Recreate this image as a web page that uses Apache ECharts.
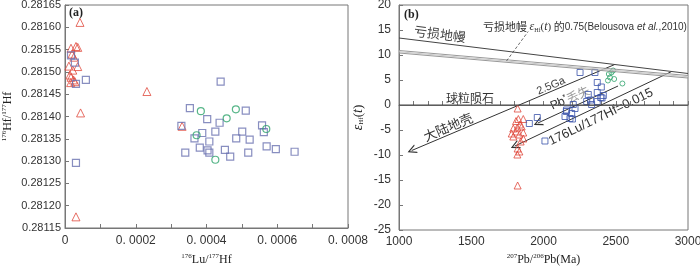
<!DOCTYPE html>
<html>
<head>
<meta charset="utf-8">
<title>Lu-Hf</title>
<script src="https://cdn.jsdelivr.net/npm/echarts@6/dist/echarts.min.js"></script>
<style>
  body { margin: 0; background: #fff; }
  #main { width: 700px; height: 267px; }
</style>
</head>
<body>
<div id="main"></div>
<script type="text/javascript">
// ---- panel (a): 176Lu/177Hf vs 176Hf/177Hf ----
var aTriangles = [
    [0.0000424, 0.281611], [0.000017, 0.281553], [0.000031, 0.281557], [0.000036, 0.281555],
    [0.000020, 0.281540], [0.000025, 0.281533], [0.000011, 0.281513], [0.000036, 0.281512],
    [0.000022, 0.281504], [0.000014, 0.281493], [0.000017, 0.281488], [0.000024, 0.281482],
    [0.000016, 0.281476], [0.000028, 0.281478], [0.0002315, 0.281456], [0.000044, 0.281408],
    [0.000331, 0.281378], [0.000031, 0.281175]
];
var aSquares = [
    [0.000017, 0.281537], [0.000028, 0.281521], [0.000059, 0.281482], [0.000031, 0.281473],
    [0.000031, 0.281296], [0.000440, 0.281478], [0.000353, 0.281419], [0.000511, 0.281413],
    [0.000402, 0.281394], [0.000437, 0.281386], [0.000329, 0.281379], [0.000557, 0.281380],
    [0.000388, 0.281363], [0.000425, 0.281366], [0.000501, 0.281366], [0.000562, 0.281365],
    [0.000366, 0.281351], [0.000484, 0.281351], [0.000522, 0.281348], [0.000408, 0.281344],
    [0.000381, 0.281330], [0.000403, 0.281324], [0.000452, 0.281325], [0.000570, 0.281333],
    [0.000596, 0.281327], [0.000340, 0.281319], [0.000408, 0.281319], [0.000467, 0.281310],
    [0.000518, 0.281319], [0.000649, 0.281321]
];
var aCircles = [
    [0.000384, 0.281412], [0.000483, 0.281416], [0.000457, 0.281396],
    [0.000372, 0.281358], [0.000569, 0.281372], [0.000425, 0.281303]
];

// ---- panel (b): age vs epsilon Hf(t) ----
var bTriangles = [
    [1821, -0.7], [1860, -2.8], [1810, -3.2], [1826, -2.8], [1837, -3.9], [1791, -4.7],
    [1819, -4.5], [1849, -4.3], [1810, -5.3], [1780, -5.7], [1791, -6.3], [1833, -5.9],
    [1860, -5.5], [1860, -6.7], [1842, -7.3], [1821, -8.7], [1819, -9.9], [1833, -9.3],
    [1821, -16.1]
];
var bSquares = [
    [2253, 6.5], [2356, 6.5], [2372, 4.5], [2400, 3.6], [2372, 2.5], [2310, 2.1],
    [2414, 1.9], [2396, 1.5], [2326, 1.0], [2372, 0.7], [2299, 0.7], [2206, 0.1],
    [2333, 0.1], [2218, -0.7], [2160, -1.0], [2195, -1.7], [2149, -2.3], [2183, -2.7],
    [2200, -2.8], [1902, -3.7], [1957, -2.5], [2010, -7.2], [2158, -1.3], [2405, 1.4]
];
var bCircles = [
    [2452, 6.2], [2482, 6.9], [2460, 5.5], [2489, 5.2], [2446, 4.9], [2546, 4.3], [2470, 6.5]
];
var dmLine = [[1000, 13.4], [3000, 6.3]];
var dm75Lines = [
    [[1000, 10.9], [3000, 5.9]],
    [[1000, 10.65], [3000, 5.65]],
    [[1000, 10.4], [3000, 5.4]]
];
var churLine = [[1000, 0], [3000, 0]];
var crustLines = [
    [[1088, -9.1], [2493, 8.1]],
    [[1961, -3.6], [2516, 3.8]],
    [[1802, -8.2], [2887, 6.7]]
];
var leaderLine = [[1744, 8.8], [1894, 14.7]];

var red = '#e0483c', blueA = '#6a72b0', blueB = '#3a52aa', green = '#2ea46c';
var chevron = 'path://M5,0 L10,10 L8.6,10 L5,2.8 L1.4,10 L0,10 Z';

var supName = {
    m: { fontFamily: 'Liberation Serif', fontSize: 12, color: '#222', verticalAlign: 'bottom', lineHeight: 13 },
    s: { fontFamily: 'Liberation Serif', fontSize: 7, color: '#222', verticalAlign: 'top', lineHeight: 13 }
};
var epsRich = {
    e: { fontFamily: 'Liberation Serif', fontStyle: 'italic', fontSize: 14, color: '#222', verticalAlign: 'bottom', lineHeight: 16 },
    n: { fontFamily: 'Liberation Serif', fontSize: 13, color: '#222', verticalAlign: 'bottom', lineHeight: 16 },
    s: { fontFamily: 'Liberation Serif', fontSize: 7, color: '#222', verticalAlign: 'bottom', lineHeight: 13 }
};

function axisCommon() {
    return {
        axisLine: { lineStyle: { color: '#777', width: 1 } },
        axisTick: { inside: true, length: 4, lineStyle: { color: '#777' } },
        splitLine: { show: false },
        nameMoveOverlap: false
    };
}

var chart = echarts.init(document.getElementById('main'));

var option = {
    animation: false,
    grid: [
        { left: 65, top: 5, width: 283, height: 223, show: true, borderColor: '#777', borderWidth: 1,
          containLabel: false, outerBoundsMode: 'none' },
        { left: 399, top: 5, width: 289, height: 225, show: true, borderColor: '#777', borderWidth: 1,
          containLabel: false, outerBoundsMode: 'none' }
    ],
    xAxis: [
        Object.assign(axisCommon(), {
            gridIndex: 0, type: 'value', min: 0, max: 0.0008, interval: 0.0002,
            minorTick: { show: true, splitNumber: 2, length: 4, lineStyle: { color: '#777' } },
            axisLabel: {
                color: '#333', fontFamily: 'Liberation Sans', fontSize: 12, margin: 7,
                formatter: function (v) { return v === 0 ? '0' : v.toFixed(4).replace('.', '. '); }
            },
            name: '{s|176}{m|Lu/}{s|177}{m|Hf}', nameLocation: 'middle', nameGap: 25,
            nameTextStyle: { rich: supName }
        }),
        Object.assign(axisCommon(), {
            gridIndex: 1, type: 'value', min: 1000, max: 3000, interval: 500,
            minorTick: { show: true, splitNumber: 5, length: 4, lineStyle: { color: '#777' } },
            axisLabel: {
                color: '#333', fontFamily: 'Liberation Sans', fontSize: 12, margin: 6,
                formatter: function (v) { return String(v); }
            },
            name: '{s|207}{m|Pb/}{s|206}{m|Pb(Ma)}', nameLocation: 'middle', nameGap: 23,
            nameTextStyle: { rich: supName }
        })
    ],
    yAxis: [
        Object.assign(axisCommon(), {
            gridIndex: 0, type: 'value', min: 0.28115, max: 0.28165, interval: 0.00005,
            axisLabel: {
                color: '#333', fontFamily: 'Liberation Sans', fontSize: 11, margin: 4,
                formatter: function (v) { return v.toFixed(5); }
            },
            name: '{s|176}{m|Hf/}{s|177}{m|Hf}', nameLocation: 'middle', nameGap: 51, nameRotate: 90,
            nameTextStyle: { rich: supName }
        }),
        Object.assign(axisCommon(), {
            gridIndex: 1, type: 'value', min: -25, max: 20, interval: 5,
            axisLabel: {
                color: '#333', fontFamily: 'Liberation Sans', fontSize: 12, margin: 8,
                formatter: function (v) { return String(v); }
            },
            name: '{e|ε}{s|Hf}{n|(}{e|t}{n|)}', nameLocation: 'middle', nameGap: 34, nameRotate: 90,
            nameTextStyle: { rich: epsRich }
        })
    ],
    series: [
        { type: 'scatter', xAxisIndex: 0, yAxisIndex: 0, data: aTriangles, symbol: 'triangle', symbolSize: 8,
          itemStyle: { color: 'rgba(0,0,0,0)', borderColor: red, borderWidth: 1 } },
        { type: 'scatter', xAxisIndex: 0, yAxisIndex: 0, data: aSquares, symbol: 'rect', symbolSize: 7,
          itemStyle: { color: 'rgba(0,0,0,0)', borderColor: blueA, borderWidth: 1.2 } },
        { type: 'scatter', xAxisIndex: 0, yAxisIndex: 0, data: aCircles, symbol: 'circle', symbolSize: 7,
          itemStyle: { color: 'rgba(0,0,0,0)', borderColor: green, borderWidth: 1.2 } },

        { type: 'line', xAxisIndex: 1, yAxisIndex: 1, data: dmLine, symbol: 'none', silent: true,
          lineStyle: { color: '#444', width: 1 } },
        { type: 'line', xAxisIndex: 1, yAxisIndex: 1, data: dm75Lines[0], symbol: 'none', silent: true,
          lineStyle: { color: '#999', width: 1.2 } },
        { type: 'line', xAxisIndex: 1, yAxisIndex: 1, data: dm75Lines[1], symbol: 'none', silent: true,
          lineStyle: { color: '#c8c8c8', width: 1.2 } },
        { type: 'line', xAxisIndex: 1, yAxisIndex: 1, data: dm75Lines[2], symbol: 'none', silent: true,
          lineStyle: { color: '#999', width: 1.2 } },
        { type: 'line', xAxisIndex: 1, yAxisIndex: 1, data: churLine, symbol: 'none', silent: true,
          lineStyle: { color: '#444', width: 1 } },
        { type: 'line', xAxisIndex: 1, yAxisIndex: 1, data: leaderLine, symbol: 'none', silent: true,
          lineStyle: { color: '#444', width: 0.8, type: [3, 2] } },
        { type: 'lines', coordinateSystem: 'cartesian2d', xAxisIndex: 1, yAxisIndex: 1, silent: true,
          symbol: [chevron, 'none'], symbolSize: [9, 9],
          lineStyle: { color: '#333', width: 1, opacity: 1 },
          data: crustLines.map(function (c) { return { coords: c }; }) },

        { type: 'scatter', xAxisIndex: 1, yAxisIndex: 1, data: bTriangles, symbol: 'triangle', symbolSize: 7,
          itemStyle: { color: 'rgba(0,0,0,0)', borderColor: red, borderWidth: 1 } },
        { type: 'scatter', xAxisIndex: 1, yAxisIndex: 1, data: bSquares, symbol: 'rect', symbolSize: 6,
          itemStyle: { color: 'rgba(0,0,0,0)', borderColor: blueB, borderWidth: 1 } },
        { type: 'scatter', xAxisIndex: 1, yAxisIndex: 1, data: bCircles, symbol: 'circle', symbolSize: 5,
          itemStyle: { color: 'rgba(0,0,0,0)', borderColor: green, borderWidth: 1 } }
    ],
    graphic: [
        { type: 'text', left: 69, top: 7, style: { text: '(a)', font: 'bold 12px "Liberation Serif"', fill: '#222' } },
        { type: 'text', left: 404, top: 9, style: { text: '(b)', font: 'bold 12px "Liberation Serif"', fill: '#222' } },
        { type: 'text', x: 440, y: 34, rotation: -7 * Math.PI / 180,
          style: { text: '亏损地幔', font: '13px "Noto Sans CJK SC"', fill: '#444', align: 'center', verticalAlign: 'middle' } },
        { type: 'text', x: 483, y: 27,
          style: {
              text: '{c|亏损地幔 }{e|ε}{s|Hf}{n|(}{e|t}{n|)}{c| 的}{a|0.75(Belousova }{i|et al.}{a|,2010)}',
              verticalAlign: 'middle',
              rich: {
                  c: { font: '11px "Noto Sans CJK SC"', fill: '#333' },
                  e: { font: 'italic 12px "Liberation Serif"', fill: '#333' },
                  s: { font: '6px "Liberation Serif"', fill: '#333', padding: [6, 0, 0, 0] },
                  n: { font: '11px "Liberation Serif"', fill: '#333' },
                  a: { font: '10px "Liberation Sans"', fill: '#333' },
                  i: { font: 'italic 10px "Liberation Sans"', fill: '#333' }
              }
          } },
        { type: 'text', x: 551, y: 86, rotation: 23 * Math.PI / 180,
          style: { text: '2.5Ga', font: '11px "Liberation Sans"', fill: '#444', align: 'center', verticalAlign: 'middle' } },
        { type: 'text', x: 470, y: 98,
          style: { text: '球粒陨石', font: '12px "Noto Sans CJK SC"', fill: '#333', align: 'center', verticalAlign: 'middle' } },
        { type: 'text', x: 448, y: 127, rotation: 23 * Math.PI / 180,
          style: { text: '大陆地壳', font: '13px "Noto Sans CJK SC"', fill: '#333', align: 'center', verticalAlign: 'middle' } },
        { type: 'text', x: 570, y: 98, rotation: 25 * Math.PI / 180,
          style: {
              text: '{p|Pb}{s|*}{g|丢失}', align: 'center', verticalAlign: 'middle',
              rich: {
                  p: { font: '12px "Liberation Sans"', fill: '#333' },
                  s: { font: '8px "Liberation Sans"', fill: '#333', padding: [0, 0, 6, 0] },
                  g: { font: '12px "Noto Sans CJK SC"', fill: '#999' }
              }
          } },
        { type: 'text', x: 601, y: 117, rotation: 26 * Math.PI / 180,
          style: { text: '176Lu/177Hf=0.015', font: '13px "Liberation Sans"', fill: '#333', align: 'center', verticalAlign: 'middle' } }
    ]
};

chart.setOption(option);
</script>
</body>
</html>
